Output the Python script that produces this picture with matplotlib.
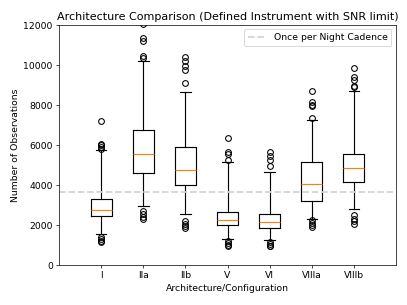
import matplotlib
matplotlib.use('Agg')
from matplotlib import pyplot as plt

# configurations and box statistics
labels = ['I', 'IIa', 'IIb', 'V', 'VI', 'VIIIa', 'VIIIb']
medians = [2750, 5540, 4760, 2260, 2130, 4060, 4870]
q1 = [2450, 4580, 3990, 1980, 1860, 3210, 4130]
q3 = [3320, 6730, 5910, 2640, 2540, 5130, 5540]
whislo = [1560, 2970, 2550, 1300, 1230, 2300, 2800]
whishi = [5720, 10170, 8660, 5130, 4630, 7250, 8670]
fliers = [
    [7200, 6050, 6000, 5900, 5800, 1400, 1300, 1200, 1150],
    [12050, 11350, 11200, 10450, 10350, 2700, 2550, 2400, 2300],
    [10400, 10200, 9950, 9750, 9100, 2200, 2050, 1950, 1850],
    [6350, 5650, 5550, 5250, 1200, 1100, 1000, 950],
    [5650, 5450, 5250, 4950, 1150, 1050, 950, 950],
    [8700, 8150, 8000, 7950, 7350, 2250, 2100, 2000, 1900],
    [9850, 9400, 9250, 8950, 8900, 2500, 2300, 2200, 2050],
]
cadence = 3650

plt.rcParams['font.size'] = 10.5
plt.rcParams['axes.titlesize'] = 12.6

stats = []
for i in range(len(labels)):
    stats.append({'label': labels[i], 'med': medians[i], 'q1': q1[i], 'q3': q3[i],
                  'whislo': whislo[i], 'whishi': whishi[i], 'fliers': fliers[i]})

fig = plt.figure(figsize=(6.4, 4.8), dpi=63.6)
ax = fig.add_axes([0.145, 0.131, 0.828, 0.787])

lw = 1.3
ax.bxp(stats, positions=range(1, len(labels) + 1),
       boxprops={'linewidth': lw}, whiskerprops={'linewidth': lw},
       capprops={'linewidth': lw}, medianprops={'linewidth': lw, 'color': '#ff7f0e'},
       flierprops={'markersize': 6.5, 'markeredgewidth': 1.2})
ax.axhline(cadence, color='lightgray', linestyle='--', linewidth=2, label='Once per Night Cadence')

ax.set_xlim(0, 8)
ax.set_ylim(0, 12000)
ax.set_title('Architecture Comparison (Defined Instrument with SNR limit)')
ax.set_xlabel('Architecture/Configuration')
ax.set_ylabel('Number of Observations')
ax.legend(loc='upper right')

fig.savefig('out.png', dpi=63.6)
